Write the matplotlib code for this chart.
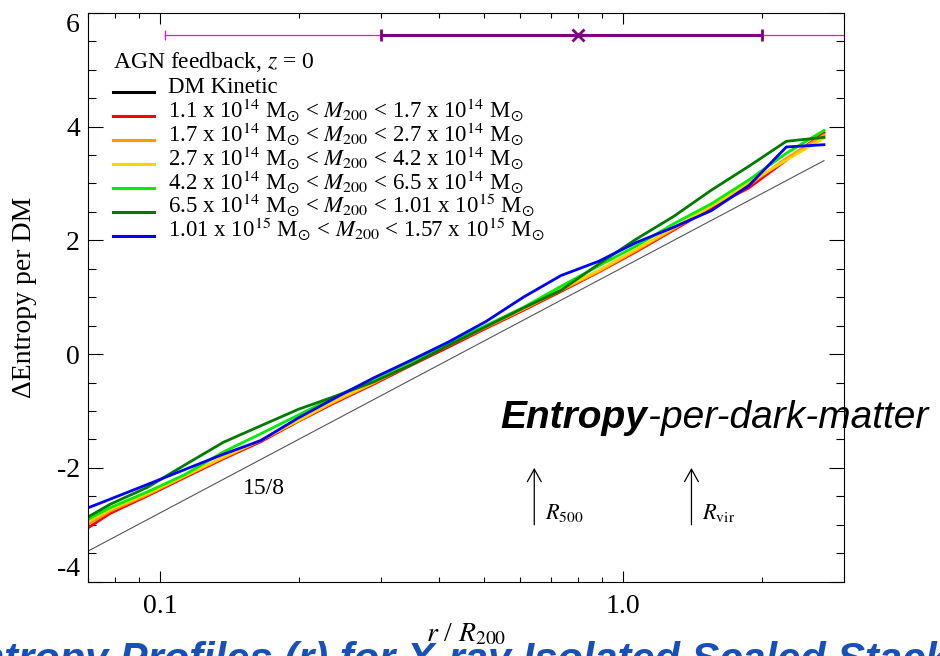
import matplotlib
matplotlib.use('Agg')
import matplotlib.pyplot as plt
from matplotlib.ticker import FixedLocator, FixedFormatter, LogLocator, NullFormatter, MultipleLocator

plt.rcParams['font.family'] = 'serif'
plt.rcParams['font.serif'] = ['Liberation Serif', 'DejaVu Serif']
plt.rcParams['mathtext.fontset'] = 'stix'
plt.rcParams['axes.unicode_minus'] = False

# radial bins, r / R200
r_bins = [0.07, 0.078, 0.094, 0.113, 0.137, 0.165, 0.199, 0.239, 0.289, 0.348, 0.419,
          0.505, 0.609, 0.734, 0.885, 1.067, 1.286, 1.55, 1.868, 2.252, 2.716]

# delta entropy per DM for each M200 bin
ent_red = [-3.05, -2.80, -2.49, -2.17, -1.84, -1.54, -1.18, -0.85, -0.53, -0.20, 0.12,
           0.45, 0.77, 1.10, 1.44, 1.80, 2.18, 2.57, 2.92, 3.41, 3.89]
ent_orange = [-2.99, -2.76, -2.47, -2.15, -1.82, -1.52, -1.16, -0.83, -0.51, -0.18, 0.15,
              0.47, 0.79, 1.12, 1.45, 1.82, 2.20, 2.60, 2.97, 3.44, 3.85]
ent_yellow = [-2.94, -2.73, -2.45, -2.14, -1.81, -1.51, -1.17, -0.82, -0.50, -0.17, 0.16,
              0.48, 0.80, 1.14, 1.47, 1.84, 2.22, 2.60, 3.01, 3.41, 3.80]
ent_green = [-2.90, -2.70, -2.42, -2.12, -1.72, -1.40, -1.07, -0.75, -0.44, -0.13, 0.19,
             0.50, 0.82, 1.19, 1.55, 1.90, 2.29, 2.64, 3.06, 3.53, 3.93]
ent_dkgreen = [-2.86, -2.64, -2.34, -1.95, -1.55, -1.26, -0.97, -0.74, -0.49, -0.19, 0.15,
               0.48, 0.81, 1.12, 1.58, 2.02, 2.42, 2.88, 3.30, 3.74, 3.81]
ent_blue = [-2.70, -2.55, -2.29, -2.03, -1.76, -1.52, -1.12, -0.77, -0.42, -0.11, 0.21,
            0.57, 1.00, 1.38, 1.63, 1.96, 2.23, 2.52, 2.96, 3.64, 3.68]

mass_labels = [
    r'1.1 x 10$^{14}$ M$_{\odot}$ < $M_{200}$ < 1.7 x 10$^{14}$ M$_{\odot}$',
    r'1.7 x 10$^{14}$ M$_{\odot}$ < $M_{200}$ < 2.7 x 10$^{14}$ M$_{\odot}$',
    r'2.7 x 10$^{14}$ M$_{\odot}$ < $M_{200}$ < 4.2 x 10$^{14}$ M$_{\odot}$',
    r'4.2 x 10$^{14}$ M$_{\odot}$ < $M_{200}$ < 6.5 x 10$^{14}$ M$_{\odot}$',
    r'6.5 x 10$^{14}$ M$_{\odot}$ < $M_{200}$ < 1.01 x 10$^{15}$ M$_{\odot}$',
    r'1.01 x 10$^{15}$ M$_{\odot}$ < $M_{200}$ < 1.57 x 10$^{15}$ M$_{\odot}$',
]
mass_colors = ['#ff0000', '#ff9a00', '#ffd200', '#00ee00', '#007a00', '#0000ff']
profiles = [ent_red, ent_orange, ent_yellow, ent_green, ent_dkgreen, ent_blue]

# 15/8 power-law reference
slope_x = [0.07, 2.716]
slope_y = [-3.46, 3.40]

# radius range bar at the top
bar_y = 5.61
outer_lo, outer_hi = 0.1027, 10.0
inner_lo, inner_mid, inner_hi = 0.3, 0.8, 2.0

# R500 / Rvir markers
r500 = 0.643
rvir = 1.405

y_ticks = [-4, -2, 0, 2, 4, 6]
x_ticks = [0.1, 1.0]
x_ticklabels = ['0.1', '1.0']

fig = plt.figure(figsize=(9.4, 6.56), dpi=100)
ax = fig.add_axes([88.3 / 940, 1 - 581.7 / 656, 755.7 / 940, 569 / 656])
ax.patch.set_visible(False)

ax.plot(slope_x, slope_y, color='#555555', lw=0.8)
for vals, col in zip(profiles, mass_colors):
    ax.plot(r_bins, vals, color=col, lw=2.0)

ax.text(0.151, -2.36, '15/8', fontsize=17, ha='left', va='center')

# top bar
ax.plot([outer_lo, outer_hi], [bar_y, bar_y], color='#ff00ff', lw=0.9, clip_on=True)
ax.plot([outer_lo], [bar_y], marker='|', ms=7, mew=0.9, color='#ff00ff')
ax.plot([inner_lo, inner_hi], [bar_y, bar_y], color='#800080', lw=2.2)
ax.plot([inner_lo, inner_hi], [bar_y, bar_y], ls='none', marker='|', ms=9, mew=2.0, color='#800080')
ax.plot([inner_mid], [bar_y], marker='x', ms=9, mew=2.0, color='#800080')

# radius markers
for rr, lab in [(r500, r'$R_{500}$'), (rvir, r'$R_{\rm vir}$')]:
    ax.annotate('', xy=(rr, -2.0), xytext=(rr, -3.0),
                arrowprops=dict(arrowstyle='->,head_length=0.45,head_width=0.25',
                                lw=0.9, color='black', mutation_scale=20,
                                shrinkA=0, shrinkB=0))
    ax.text(rr * 1.055, -2.9, lab, fontsize=16, ha='left', va='baseline')

# legend drawn by hand
leg_x0, leg_x1, txt_x = 0.0327, 0.0869, 0.1055
title_y = 0.9023
row_y = [0.8589, 0.8167, 0.7745, 0.7323, 0.6902, 0.6480, 0.6053]
ax.text(leg_x0, title_y, r'AGN feedback, $z$ = 0', transform=ax.transAxes,
        fontsize=17, va='baseline', ha='left')
leg_labels = ['DM Kinetic'] + mass_labels
leg_colors = ['black'] + mass_colors
for yy, lab, col in zip(row_y, leg_labels, leg_colors):
    ax.plot([leg_x0, leg_x1], [yy + 0.002, yy + 0.002], color=col, lw=2.2,
            transform=ax.transAxes)
    ax.text(txt_x, yy, lab, transform=ax.transAxes, fontsize=16.5,
            va='baseline', ha='left')

ax.set_xscale('log')
ax.set_xlim(0.07, 3.0)
ax.set_ylim(-4, 6)
ax.xaxis.set_major_locator(FixedLocator(x_ticks))
ax.xaxis.set_major_formatter(FixedFormatter(x_ticklabels))
ax.xaxis.set_minor_locator(LogLocator(base=10, subs=range(2, 10)))
ax.xaxis.set_minor_formatter(NullFormatter())
ax.yaxis.set_major_locator(FixedLocator(y_ticks))
ax.yaxis.set_minor_locator(MultipleLocator(0.5))

ax.tick_params(which='both', direction='in', top=True, right=True, width=0.8, labelsize=20)
ax.tick_params(axis='y', which='major', length=10.8, pad=6)
ax.tick_params(axis='y', which='minor', length=5.8)
ax.tick_params(axis='x', which='major', length=8, pad=9)
ax.tick_params(axis='x', which='minor', length=3.8)
for sp in ax.spines.values():
    sp.set_linewidth(0.8)

# keep the end labels inside the frame height
ytk = ax.yaxis.get_major_ticks()
ytk[0].label1.set_verticalalignment('bottom')
ytk[-1].label1.set_verticalalignment('top')

ax.set_xlabel(r'$r$ / $R_{200}$', fontsize=20, labelpad=2)
ax.set_ylabel('ΔEntropy per DM', fontsize=20, labelpad=14)

# overlay captions
t1 = fig.text(500.7 / 940, 1 - 428 / 656, 'Entropy', fontsize=28, family='Liberation Sans',
              fontweight='bold', style='italic', va='baseline', ha='left')
ax.annotate('-per-dark-matter', xy=(1, 0), xycoords=t1, fontsize=28,
            family='Liberation Sans', style='italic', va='bottom', ha='left',
            annotation_clip=False)
fig.text(-49 / 940, 1 - 672 / 656, 'Entropy Profiles (r) for X-ray Isolated Scaled Stacked Clusters',
         fontsize=30, family='Liberation Sans', fontweight='bold', style='italic',
         color='#1750b8', va='baseline', ha='left', zorder=-1)

fig.savefig('out.png', dpi=100)
